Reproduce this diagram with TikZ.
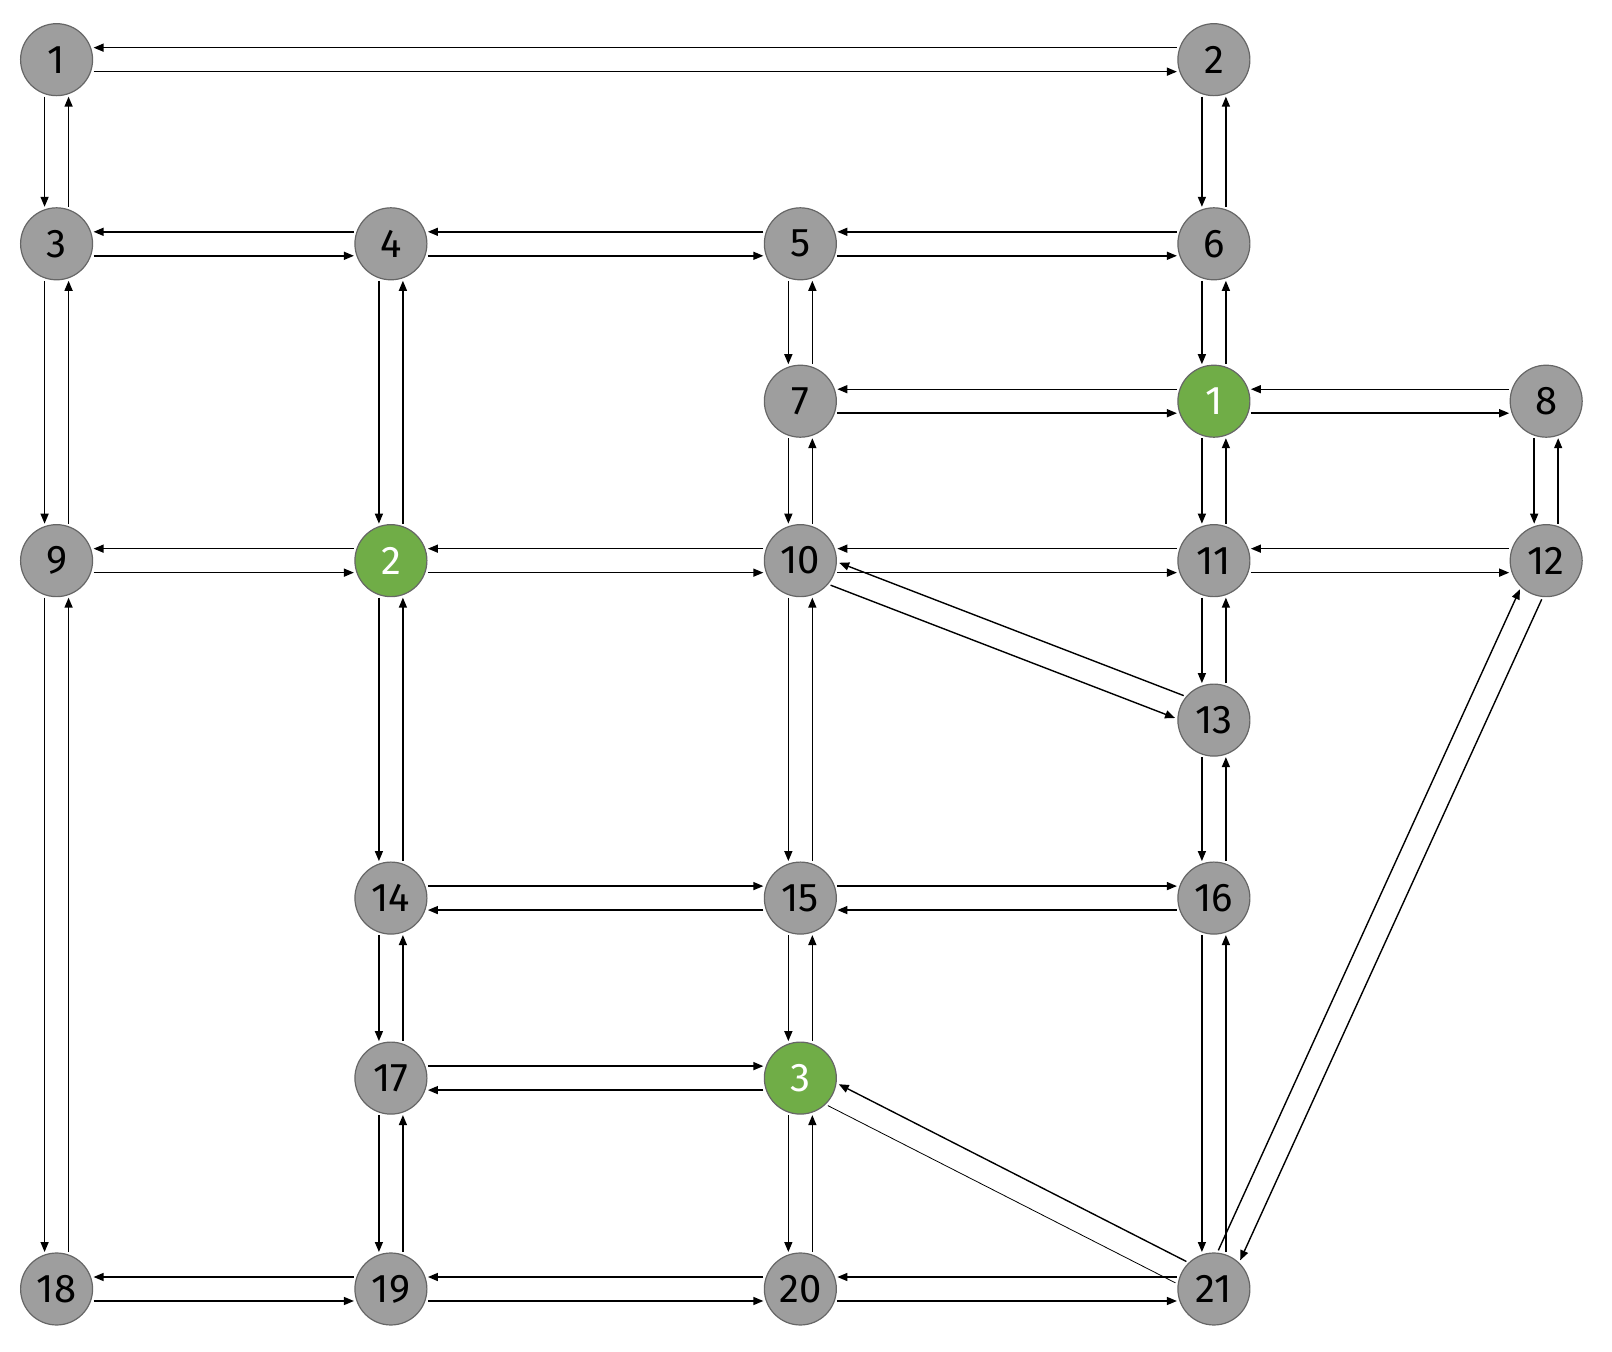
\documentclass[tikz,border=0pt]{standalone}
\usepackage{fontspec}
\setmainfont{Fira Sans}
\usetikzlibrary{calc,arrows.meta}
\tikzset{
 nd/.style={circle,draw=black!60,line width=0.6pt,fill=black!38,minimum size=36pt,inner sep=0pt,font=\fontsize{20}{20}\selectfont},
 gn/.style={nd,fill={rgb,255:red,112;green,173;blue,71},text=white},
 arr/.style={-{Triangle[length=5pt,width=4pt]},line width=0.7pt}
}
\newcommand\ed[2]{\draw[arr] ($($(#1)!18.5pt!(#2)$)!6pt!-90:(#2)$) -- ($($(#2)!18.5pt!(#1)$)!6pt!90:(#1)$);}
\newcommand\el[2]{\draw[arr] ($($(#1)!18.5pt!(#2)$)!6pt!90:(#2)$) -- ($($(#2)!18.5pt!(#1)$)!6pt!-90:(#1)$);}
\newcommand\pr[2]{\ed{#1}{#2}\ed{#2}{#1}}
\newcommand\pl[2]{\el{#1}{#2}\el{#2}{#1}}
\begin{document}
\begin{tikzpicture}[x=0.5145pt,y=-0.5145pt]
\useasboundingbox (0,0) rectangle (1567,1314);
\node[nd] (n1) at (55,58) {1};
\node[nd] (n2) at (1180,58) {2};
\node[nd] (n3) at (55,237) {3};
\node[nd] (n4) at (380,237) {4};
\node[nd] (n5) at (778,237) {5};
\node[nd] (n6) at (1180,237) {6};
\node[nd] (n7) at (778,390) {7};
\node[gn] (g1) at (1180,390) {1};
\node[nd] (n8) at (1503,390) {8};
\node[nd] (n9) at (55,545) {9};
\node[gn] (g2) at (380,545) {2};
\node[nd] (n10) at (778,545) {10};
\node[nd] (n11) at (1180,545) {11};
\node[nd] (n12) at (1503,545) {12};
\node[nd] (n13) at (1180,700) {13};
\node[nd] (n14) at (380,873) {14};
\node[nd] (n15) at (778,873) {15};
\node[nd] (n16) at (1180,873) {16};
\node[nd] (n17) at (380,1048) {17};
\node[gn] (g3) at (778,1048) {3};
\node[nd] (n18) at (55,1253) {18};
\node[nd] (n19) at (380,1253) {19};
\node[nd] (n20) at (778,1253) {20};
\node[nd] (n21) at (1180,1253) {21};
\pr{n1}{n2}\pr{n1}{n3}\pr{n2}{n6}\pr{n3}{n4}\pr{n3}{n9}\pr{n4}{n5}\pr{n4}{g2}
\pr{n5}{n6}\pr{n5}{n7}\pr{n6}{g1}\pr{n7}{g1}\pr{n7}{n10}\pr{g1}{n8}\pr{g1}{n11}
\pr{n8}{n12}\pr{n9}{g2}\pr{n9}{n18}\pr{g2}{n10}\pr{g2}{n14}\pr{n10}{n11}\pr{n10}{n13}
\pr{n10}{n15}\pr{n11}{n12}\pr{n11}{n13}\pr{n13}{n16}\pl{n14}{n15}\pr{n14}{n17}
\pl{n15}{n16}\pr{n15}{g3}\pr{n16}{n21}\pl{n17}{g3}\pr{n17}{n19}\pr{g3}{n20}
\pl{n12}{n21}\pr{n18}{n19}\pr{n19}{n20}\pr{n20}{n21}
\ed{n21}{g3}
\draw[line width=0.4pt] ($($(g3)!18.5pt!(n21)$)!6pt!-90:(n21)$) -- ($($(n21)!18.5pt!(g3)$)!6pt!90:(g3)$);
\end{tikzpicture}
\end{document}
